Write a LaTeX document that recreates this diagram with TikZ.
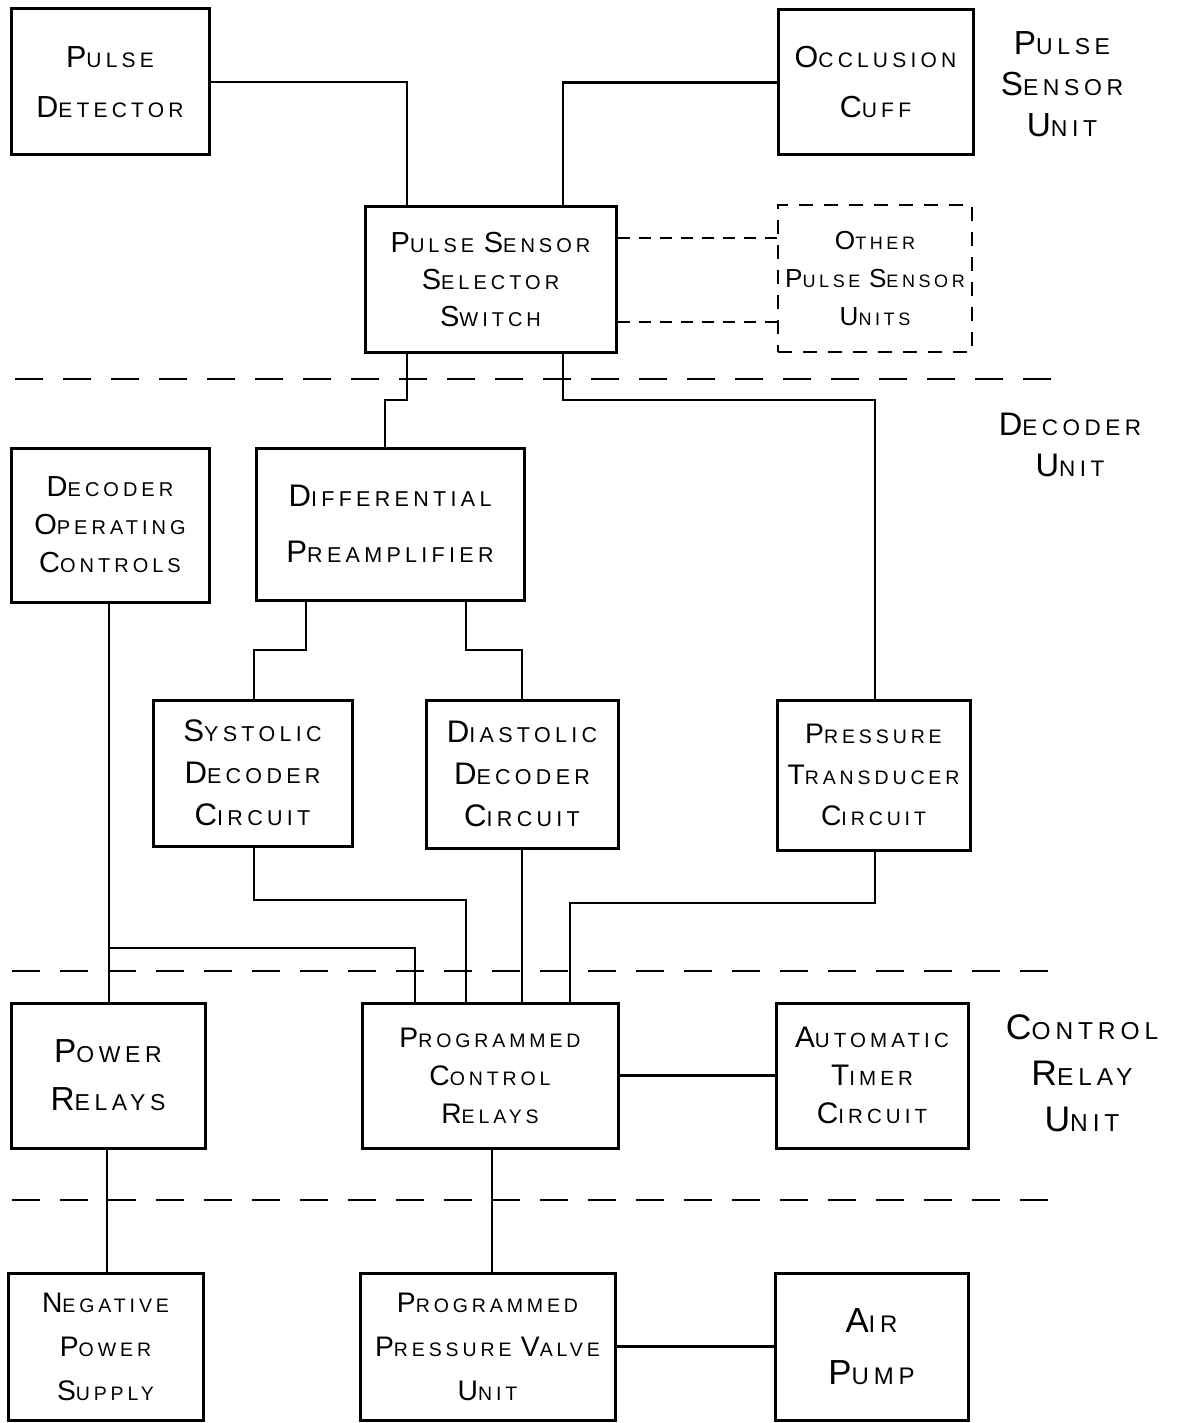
\documentclass[tikz,border=0pt]{standalone}
\usepackage{fontspec}
\usepackage{graphicx}
\usepackage{tikz}
\newfontfamily\hand[LetterSpace=20]{Liberation Sans}
\newcommand\Ini[1]{\scalebox{1.45}{#1}}

\begin{document}
\begin{tikzpicture}[x=1pt,y=-1pt,
  blk/.style 2 args={draw,line width=3pt,align=center,inner sep=0pt,
    minimum width=#1,minimum height=#2,font=\hand\fontsize{21.5}{42}\selectfont},
  dblk/.style 2 args={blk={#1}{#2},line width=2.6pt,dash pattern=on 14pt off 11pt},
  lbl/.style={align=center,inner sep=0pt,font=\hand\fontsize{23}{41}\selectfont},
  wire/.style={line width=2.5pt},
  dwire/.style={line width=2.5pt,dash pattern=on 12pt off 9pt},
  sep/.style={line width=1.2pt,dash pattern=on 28pt off 20pt}]
  \useasboundingbox (0,0) rectangle (1177,1423);
  % pulse sensor unit
  \node[blk={198pt}{146pt},font=\hand\fontsize{21}{50}\selectfont] (pd) at (110,82)
       {\Ini{P}ULSE\\\Ini{D}ETECTOR};
  \node[blk={195pt}{145pt},font=\hand\fontsize{21}{50}\selectfont] (oc) at (875.5,82.5)
       {\Ini{O}CCLUSION\\\Ini{C}UFF};
  \node[blk={251pt}{145pt},font=\hand\fontsize{20}{37}\selectfont] (sel) at (490.5,279.5)
       {\Ini{P}ULSE \Ini{S}ENSOR\\\Ini{S}ELECTOR\\\Ini{S}WITCH};
  \node[dblk={194pt}{147pt},font=\hand\fontsize{18}{38}\selectfont] (oth) at (875,278.5)
       {\Ini{O}THER\\\Ini{P}ULSE \Ini{S}ENSOR\\\Ini{U}NITS};
  \node[lbl] (psu) at (1062,84) {\Ini{P}ULSE\\\Ini{S}ENSOR\\\Ini{U}NIT};
  % decoder unit
  \node[blk={198pt}{154pt},font=\hand\fontsize{20}{38}\selectfont] (doc) at (110,525)
       {\Ini{D}ECODER\\\Ini{O}PERATING\\\Ini{C}ONTROLS};
  \node[blk={268pt}{152pt},font=\hand\fontsize{21.5}{56}\selectfont] (dp) at (390,524)
       {\Ini{D}IFFERENTIAL\\\Ini{P}REAMPLIFIER};
  \node[blk={199pt}{146pt}] (sys) at (252.5,773)
       {\Ini{S}YSTOLIC\\\Ini{D}ECODER\\\Ini{C}IRCUIT};
  \node[blk={192pt}{148pt}] (dia) at (522,774)
       {\Ini{D}IASTOLIC\\\Ini{D}ECODER\\\Ini{C}IRCUIT};
  \node[blk={193pt}{150pt},font=\hand\fontsize{19.5}{41}\selectfont] (pt) at (873.5,775)
       {\Ini{P}RESSURE\\\Ini{T}RANSDUCER\\\Ini{C}IRCUIT};
  \node[lbl,font=\hand\fontsize{22.5}{41}\selectfont] (du) at (1070,445)
       {\Ini{D}ECODER\\\Ini{U}NIT};
  % control relay unit
  \node[blk={194pt}{145pt},font=\hand\fontsize{23}{48}\selectfont] (pr) at (108,1075.5)
       {\Ini{P}OWER\\\Ini{R}ELAYS};
  \node[blk={256pt}{145pt},font=\hand\fontsize{19.5}{38}\selectfont] (pcr) at (490,1075.5)
       {\Ini{P}ROGRAMMED\\\Ini{C}ONTROL\\\Ini{R}ELAYS};
  \node[blk={192pt}{145pt},font=\hand\fontsize{20.5}{38}\selectfont] (atc) at (872,1075.5)
       {\Ini{A}UTOMATIC\\\Ini{T}IMER\\\Ini{C}IRCUIT};
  \node[lbl,font=\hand\fontsize{24.5}{46}\selectfont] (cru) at (1082,1073)
       {\Ini{C}ONTROL\\\Ini{R}ELAY\\\Ini{U}NIT};
  % supply row
  \node[blk={195pt}{147pt},font=\hand\fontsize{19.5}{44}\selectfont] (nps) at (105.5,1346.5)
       {\Ini{N}EGATIVE\\\Ini{P}OWER\\\Ini{S}UPPLY};
  \node[blk={255pt}{147pt},font=\hand\fontsize{19.5}{44}\selectfont] (ppv) at (487.5,1346.5)
       {\Ini{P}ROGRAMMED\\\Ini{P}RESSURE \Ini{V}ALVE\\\Ini{U}NIT};
  \node[blk={193pt}{147pt},font=\hand\fontsize{24}{52}\selectfont] (ap) at (871.5,1346.5)
       {\Ini{A}IR\\\Ini{P}UMP};
  % unit boundaries
  \draw[sep] (15,379) -- (1068,379);
  \draw[sep] (12,971) -- (1066,971);
  \draw[sep] (12,1200) -- (1060,1200);
  % wiring
  \draw[wire] (pd.east) -| (407,0 |- sel.north);
  \draw[wire] (oc.west) -| (563,0 |- sel.north);
  \draw[dwire] (sel.east |- 0,238) -- (oth.west |- 0,238);
  \draw[dwire] (sel.east |- 0,322) -- (oth.west |- 0,322);
  \draw[wire] (407,0 |- sel.south) -- (407,400) -| (385,0 |- dp.north);
  \draw[wire] (563,0 |- sel.south) -- (563,400) -| (875,0 |- pt.north);
  \draw[wire] (306,0 |- dp.south) -- (306,650) -| (254,0 |- sys.north);
  \draw[wire] (466,0 |- dp.south) -- (466,650) -| (522,0 |- dia.north);
  \draw[wire] (254,0 |- sys.south) -- (254,900) -| (466,0 |- pcr.north);
  \draw[wire] (522,0 |- dia.south) -- (522,0 |- pcr.north);
  \draw[wire] (875,0 |- pt.south) -- (875,903) -| (570,0 |- pcr.north);
  \draw[wire] (109,0 |- doc.south) -- (109,0 |- pr.north);
  \draw[wire] (109,948) -| (415,0 |- pcr.north);
  \draw[wire] (pcr.east) -- (atc.west);
  \draw[wire] (107,0 |- pr.south) -- (107,0 |- nps.north);
  \draw[wire] (492,0 |- pcr.south) -- (492,0 |- ppv.north);
  \draw[wire] (ppv.east) -- (ap.west);
\end{tikzpicture}
\end{document}
